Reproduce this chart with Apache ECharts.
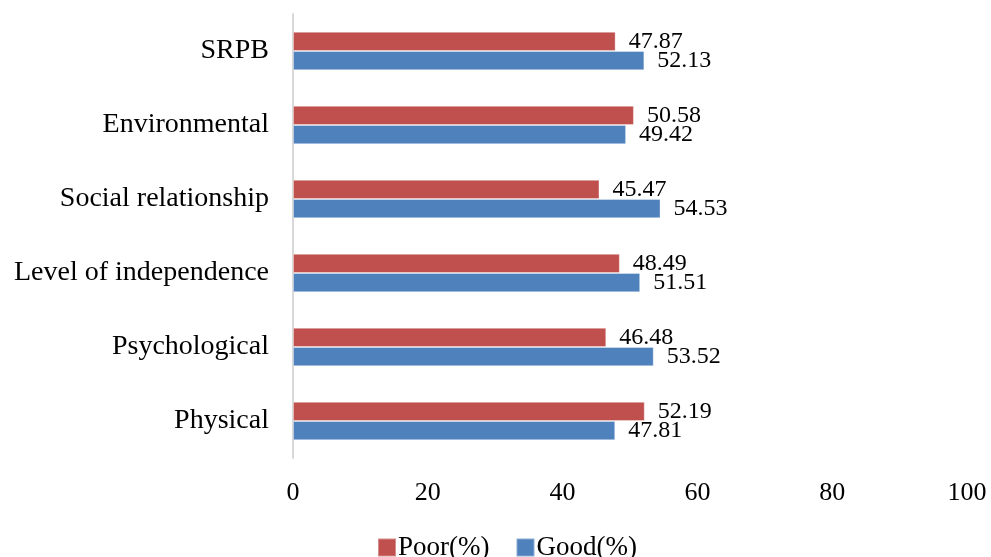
<!DOCTYPE html>
<html>
<head>
<meta charset="utf-8">
<script src="https://cdn.jsdelivr.net/npm/echarts@6/dist/echarts.min.js"></script>
<style>
  html, body { margin: 0; padding: 0; background: #fff; }
  #chart { width: 991px; height: 557px; }
</style>
</head>
<body>
<div id="chart"></div>
<script>
// Quality-of-life domains, bottom to top
const categories = ['Physical', 'Psychological', 'Level of independence', 'Social relationship', 'Environmental', 'SRPB'];
const poorValues = [52.19, 46.48, 48.49, 45.47, 50.58, 47.87];
const goodValues = [47.81, 53.52, 51.51, 54.53, 49.42, 52.13];
const xTicks = { min: 0, max: 100, interval: 20 };

const FONT = '"Liberation Serif", "Times New Roman", serif';

const chart = echarts.init(document.getElementById('chart'), null, { renderer: 'canvas' });

function barSeries(name, data, color) {
  return {
    name: name,
    type: 'bar',
    data: data,
    barCategoryGap: '48%',
    barGap: '0%',
    itemStyle: { color: color, borderColor: 'rgba(255,255,255,0.35)', borderWidth: 1 },
    label: {
      show: true,
      position: 'right',
      distance: 13,
      color: '#000',
      fontFamily: FONT,
      fontSize: 24,
      formatter: p => p.value.toFixed(2)
    }
  };
}

chart.setOption({
  animation: false,
  grid: { left: 293, right: 24, top: 14, bottom: 99, containLabel: false },
  legend: {
    data: ['Poor(%)', 'Good(%)'],
    left: 372,
    top: 529,
    itemWidth: 18,
    itemHeight: 18,
    itemGap: 26,
    icon: 'rect',
    textStyle: { fontFamily: FONT, fontSize: 27, color: '#000', padding: [0, 0, 0, -3] }
  },
  xAxis: {
    type: 'value',
    min: xTicks.min,
    max: xTicks.max,
    interval: xTicks.interval,
    axisLine: { show: false },
    axisTick: { show: false },
    splitLine: { show: false },
    axisLabel: { fontFamily: FONT, fontSize: 26, color: '#000', margin: 22 }
  },
  yAxis: {
    type: 'category',
    data: categories,
    axisLine: { show: true, lineStyle: { color: '#d9d9d9', width: 2 } },
    axisTick: { show: false },
    axisLabel: { fontFamily: FONT, fontSize: 28, color: '#000', margin: 24 }
  },
  series: [
    barSeries('Poor(%)', poorValues, '#C0504D'),
    barSeries('Good(%)', goodValues, '#4F81BD')
  ]
});
</script>
</body>
</html>
